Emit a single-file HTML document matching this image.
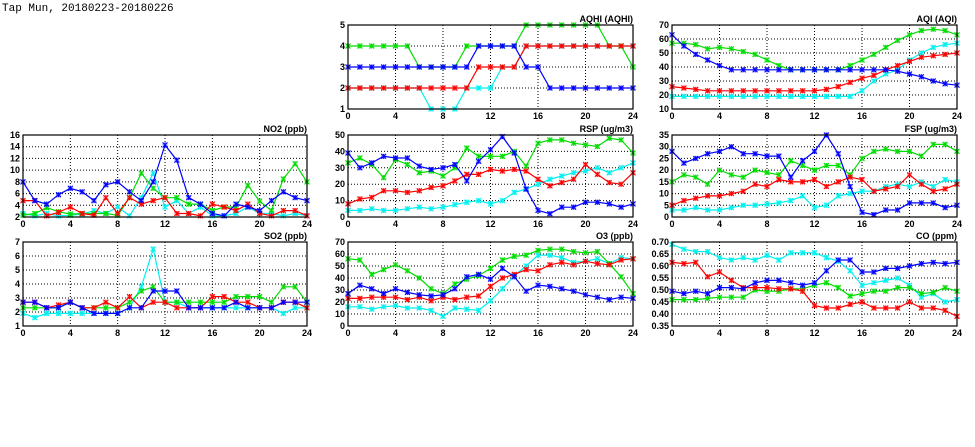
<!DOCTYPE html>
<html><head><meta charset="utf-8"><style>
html,body{margin:0;padding:0;background:#fff;}
svg{display:block;}
text{font-family:"Liberation Sans",sans-serif;font-size:9px;font-weight:bold;fill:#000;}
</style></head><body>
<svg id="s" width="975" height="447" viewBox="0 0 975 447" xmlns="http://www.w3.org/2000/svg">
<text x="2" y="11" style="font-size:11px;font-weight:normal;font-family:'Liberation Mono',monospace">Tap Mun, 20180223-20180226</text>
</svg>
<script>
var C={g:"#00dd00",c:"#00f0f0",r:"#ff0000",b:"#0000ff"};
var P=[
{x:348,y:25,w:285,h:84,t:"AQHI (AQHI)",min:1,max:5,ticks:[1,2,3,4,5],f:0,
 s:{c:[2,2,2,2,2,2,2,1,1,1,2,2,2,3,3,4,4,4,4,4,4,4,4,4,4],
 g:[4,4,4,4,4,4,3,3,3,3,4,4,4,4,4,5,5,5,5,5,5,5,4,4,3],
 r:[2,2,2,2,2,2,2,2,2,2,2,3,3,3,3,4,4,4,4,4,4,4,4,4,4],
 b:[3,3,3,3,3,3,3,3,3,3,3,4,4,4,4,3,3,2,2,2,2,2,2,2,2]}},
{x:672,y:25,w:285,h:84,t:"AQI (AQI)",min:10,max:70,ticks:[10,20,30,40,50,60,70],f:0,
 s:{c:[19,19,19,19,19,19,19,19,19,19,19,19,19,19,19,19,23,30,35,38,45,50,54,56,57],
 g:[57,57,56,53,54,53,51,49,45,41,38,38,38,38,38,41,45,49,54,59,63,66,67,66,63],
 r:[26,25,24,23,23,23,23,23,23,23,23,23,23,24,26,29,32,34,38,41,44,47,48,49,50],
 b:[63,55,49,45,41,38,38,38,38,38,38,38,38,38,38,38,38,38,38,37,35,33,30,28,27]}},
{x:23,y:135,w:284,h:82,t:"NO2 (ppb)",min:2,max:16,ticks:[2,4,6,8,10,12,14,16],f:0,
 s:{c:[2.6,2.2,2.6,2.2,2.3,2.5,3.1,2.6,3.7,2.2,5.3,9.5,3.7,4.8,2.6,3.7,2.2,2.2,2.6,3.7,2.6,2.6,2.2,2.6,2.2],
 g:[2.3,2.6,3.6,2.9,2.5,2.6,2.6,2.6,2.3,5.3,9.5,6.9,5.3,5.3,4.2,4.2,3.1,3.7,3.7,7.4,4.7,3.1,8.5,11.1,8],
 r:[4.8,4.8,2.2,2.8,3.7,2.6,2.3,5.3,2.6,5.3,4.2,4.8,5.3,2.6,2.6,2.2,4.2,3.7,3.1,4.2,2.6,2.2,3.1,3.1,2.2],
 b:[8,4.8,4.2,5.8,6.9,6.3,4.8,7.5,8,6.3,4.8,8,14.3,11.7,5.3,4.2,2.6,2.2,4.2,3.7,3.1,4.8,6.3,5.3,4.8]}},
{x:348,y:135,w:285,h:82,t:"RSP (ug/m3)",min:0,max:50,ticks:[0,10,20,30,40,50],f:0,
 s:{c:[4,4,5,4,4,5,6,5,6,7.5,9,10,8,10,15,17,20,23,25,27,28,30,27,30,33],
 g:[33,36,32,24,35,32,27,28,25,30,42,37,37,37,40,31,45,47,47,45,44,43,48,47,39],
 r:[8,11,12,16,16,15,16,18,19,22,26,26,29,28,29,28,23,19,21,23,32,26,21,20,27],
 b:[39,30,33,37,36,36,31,29,30,32,22,34,41,49,39,17,4,2,6,6,9,9,8,6,8]}},
{x:672,y:135,w:285,h:82,t:"FSP (ug/m3)",min:0,max:35,ticks:[0,5,10,15,20,25,30,35],f:0,
 s:{c:[3,3,4,3,3,4,5,5,5.5,6,7,9,4,5,9,10,11,11,13,14,13,15,13,16,15],
 g:[15,18,17,14,20,18,17,20,19,18,24,22,20,22,22,18,25,28,29,28,28,26,31,31,28],
 r:[5,7,8,9,9,10,11,14,13,16,15,15,16,13,15,17,16,11,12,13,18,14,11,12,14],
 b:[28,23,25,27,28,30,27,27,26,26,17,24,28,35,27,13,2,1,3,3,6,6,6,4,5]}},
{x:23,y:242,w:284,h:84,t:"SO2 (ppb)",min:1,max:7,ticks:[1,2,3,4,5,6,7],f:0,
 s:{c:[1.9,1.6,1.9,1.9,1.9,1.9,1.9,1.9,1.9,2.3,3.8,6.5,2.7,2.7,2.3,2.3,2.3,2.3,2.3,2.3,2.3,2.3,1.9,2.3,2.3],
 g:[2.3,2.3,2.3,2.3,2.7,2.3,2.3,2.3,2.3,2.7,3.5,3.8,2.7,2.7,2.7,2.7,2.7,2.7,3.1,3.1,3.1,2.7,3.8,3.8,2.7],
 r:[2.7,2.7,2.3,2.5,2.7,2.3,2.3,2.7,2.3,3.1,2.3,2.7,2.7,2.3,2.3,2.3,3.1,3.1,2.7,2.7,2.3,2.3,2.7,2.7,2.3],
 b:[2.7,2.7,2.3,2.3,2.7,2.3,1.9,1.9,1.9,2.3,2.3,3.5,3.5,3.5,2.3,2.3,2.3,2.3,2.7,2.3,2.3,2.3,2.7,2.7,2.7]}},
{x:348,y:242,w:285,h:84,t:"O3 (ppb)",min:0,max:70,ticks:[0,10,20,30,40,50,60,70],f:0,
 s:{c:[16,16,14,16,17,15,15,13,8,15,14,13,21,31,42,50,59,59,57,53,54,56,52,57,56],
 g:[56,55,43,47,51,46,40,31,27,35,39,42,48,55,58,59,63,64,64,62,61,62,52,41,27],
 r:[23,23,24,24,24,22,24,21,24,22,24,25,33,40,43,47,46,51,53,51,54,52,51,55,56],
 b:[27,34,31,27,31,28,26,25,26,31,41,43,39,48,41,29,34,33,31,29,26,24,22,24,23]}},
{x:672,y:242,w:285,h:84,t:"CO (ppm)",min:0.35,max:0.70,ticks:[0.35,0.40,0.45,0.50,0.55,0.60,0.65,0.70],f:2,
 s:{c:[.69,.67,.66,.66,.635,.625,.635,.625,.645,.625,.655,.655,.655,.635,.62,.58,.52,.53,.54,.55,.52,.47,.485,.45,.46],
 g:[.46,.46,.46,.465,.47,.47,.47,.50,.495,.495,.505,.505,.52,.53,.51,.475,.485,.495,.495,.51,.51,.485,.49,.51,.495],
 r:[.615,.61,.615,.555,.575,.54,.51,.51,.51,.505,.505,.495,.435,.425,.425,.44,.45,.425,.425,.425,.45,.425,.425,.415,.39],
 b:[.495,.485,.495,.485,.51,.51,.505,.53,.54,.54,.53,.52,.53,.58,.625,.625,.575,.575,.59,.59,.60,.61,.615,.61,.615]}}
];
var o="";
P.forEach(function(p){
 var X=function(i){return p.x+i*p.w/24;},Y=function(v){return p.y+p.h-(v-p.min)/(p.max-p.min)*p.h;};
 o+='<rect x="'+p.x+'" y="'+p.y+'" width="'+p.w+'" height="'+p.h+'" fill="#fff" stroke="none"/>';
 for(var i=4;i<24;i+=4){var xx=X(i);o+='<line x1="'+xx+'" y1="'+p.y+'" x2="'+xx+'" y2="'+(p.y+p.h)+'" stroke="#000" stroke-width="1" stroke-dasharray="1,2"/>';}
 p.ticks.forEach(function(t,k){var yy=Y(t);
  if(k>0&&k<p.ticks.length-1)o+='<line x1="'+p.x+'" y1="'+yy+'" x2="'+(p.x+p.w)+'" y2="'+yy+'" stroke="#000" stroke-width="1" stroke-dasharray="1,2"/>';
  o+='<text x="'+(p.x-3)+'" y="'+(yy+3)+'" text-anchor="end">'+t.toFixed(p.f)+'</text>';});
 for(var i=0;i<=24;i+=4){o+='<text x="'+X(i)+'" y="'+(p.y+p.h+10)+'" text-anchor="middle">'+i+'</text>';}
 o+='<text x="'+(p.x+p.w)+'" y="'+(p.y-3)+'" text-anchor="end">'+p.t+'</text>';
 ["c","g","r","b"].forEach(function(k){var d=p.s[k],pts=d.map(function(v,i){return X(i).toFixed(1)+","+Y(v).toFixed(1);}).join(" ");
  o+='<polyline points="'+pts+'" fill="none" stroke="'+C[k]+'" stroke-width="1.2"/>';
  d.forEach(function(v,i){var a=X(i),b=Y(v);
   o+='<rect x="'+(a-2.5)+'" y="'+(b-2.5)+'" width="5" height="5" fill="'+C[k]+'" fill-opacity="0.35"/>';
   o+='<path d="M'+(a-2.5)+','+(b-2.5)+'L'+(a+2.5)+','+(b+2.5)+'M'+(a-2.5)+','+(b+2.5)+'L'+(a+2.5)+','+(b-2.5)+'M'+a+','+(b-2.5)+'V'+(b+2.5)+'" stroke="'+C[k]+'" stroke-width="1"/>';});
 });
 o+='<rect x="'+p.x+'" y="'+p.y+'" width="'+p.w+'" height="'+p.h+'" fill="none" stroke="#000" stroke-width="1.2"/>';
});
document.getElementById("s").insertAdjacentHTML("beforeend",o);
</script>
</body></html>
